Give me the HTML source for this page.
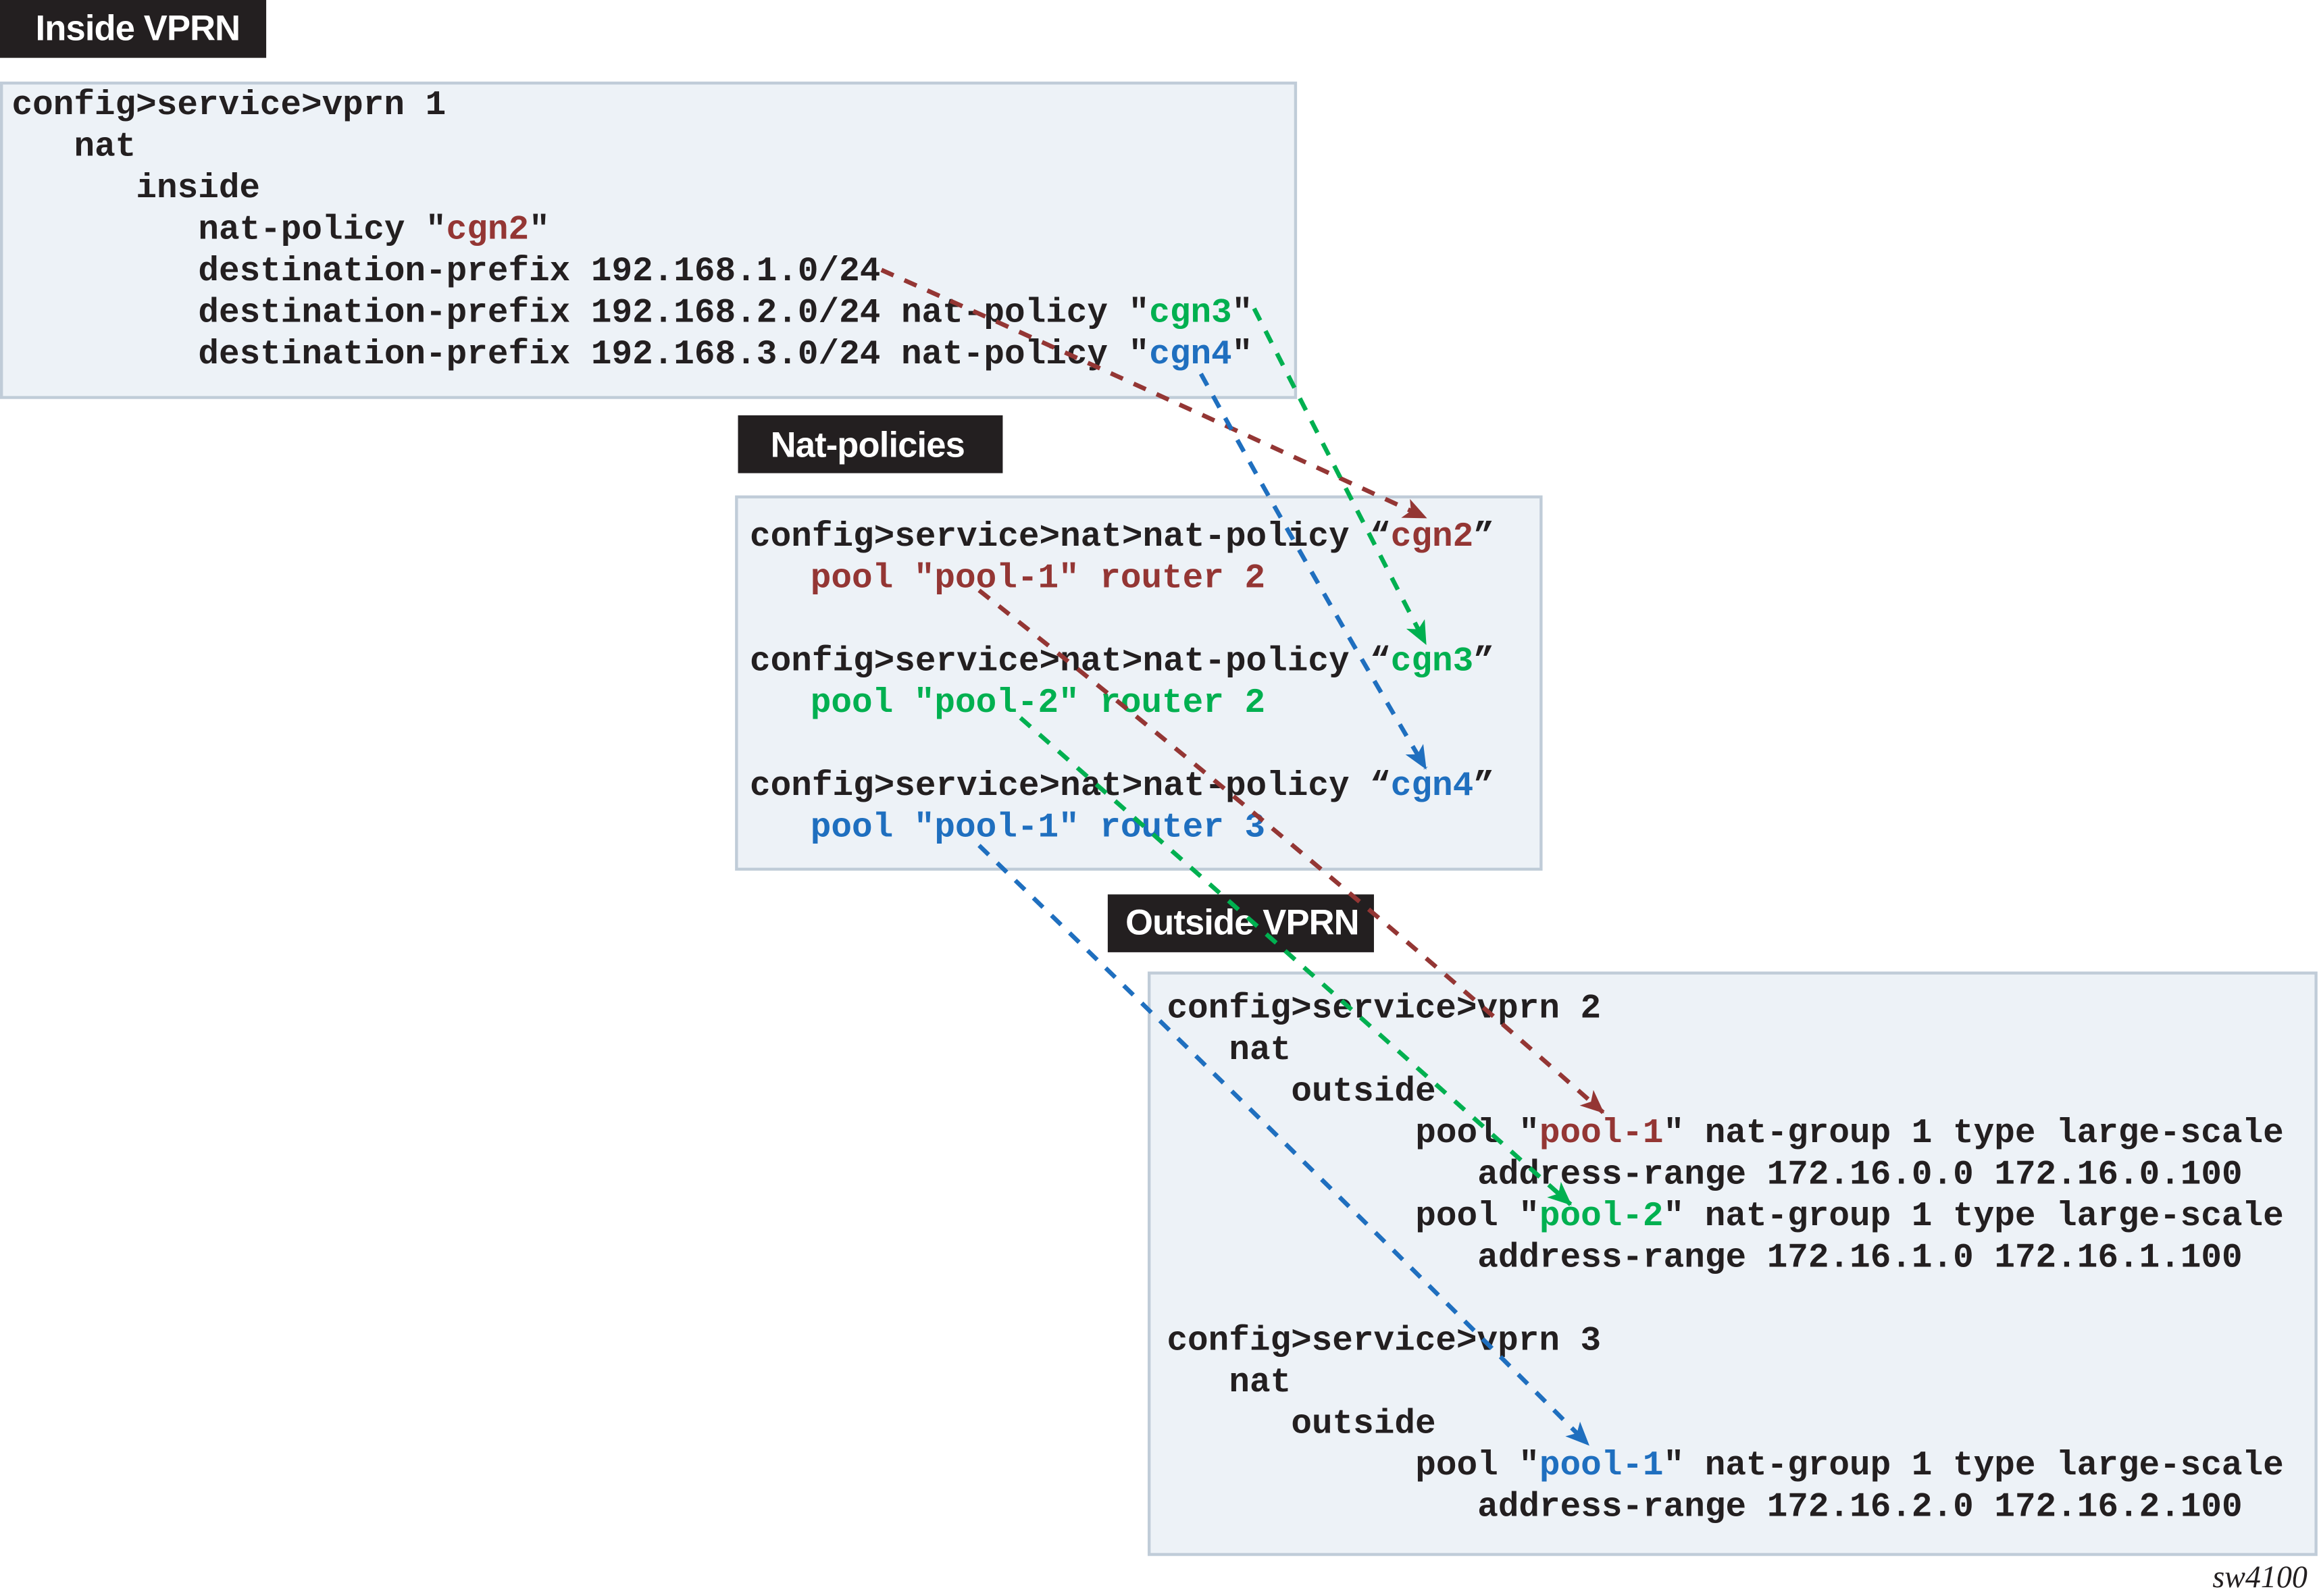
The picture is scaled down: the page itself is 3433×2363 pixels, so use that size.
<!DOCTYPE html>
<html><head><meta charset="utf-8"><style>
html,body{margin:0;padding:0;background:#fff}
svg{display:block}
.t{font-family:"Liberation Mono",monospace;font-weight:bold;font-size:23.3px;fill:#231f20}
.h{font-family:"Liberation Sans",sans-serif;font-weight:bold;font-size:24px;letter-spacing:-0.4px;fill:#fff}
.r{fill:#943634}.g{fill:#00b050}.b{fill:#1f6fbf}
</style></head><body>
<svg width="3433" height="2363" viewBox="0 0 1568 1076" preserveAspectRatio="none" xmlns="http://www.w3.org/2000/svg">
<defs>
<marker id="mr" markerWidth="16" markerHeight="14" refX="15" refY="7" orient="auto" markerUnits="userSpaceOnUse"><path d="M0,0 L16,7 L0,14 L4,7 z" fill="#943634"/></marker>
<marker id="mg" markerWidth="16" markerHeight="14" refX="15" refY="7" orient="auto" markerUnits="userSpaceOnUse"><path d="M0,0 L16,7 L0,14 L4,7 z" fill="#00b050"/></marker>
<marker id="mb" markerWidth="16" markerHeight="14" refX="15" refY="7" orient="auto" markerUnits="userSpaceOnUse"><path d="M0,0 L16,7 L0,14 L4,7 z" fill="#1f6fbf"/></marker>
</defs>

<rect x="0" y="0" width="180" height="39" fill="#231f20"/>
<text class="h" x="24" y="27">Inside VPRN</text>
<rect x="1" y="56" width="875" height="212" fill="#edf2f7" stroke="#c0ccd8" stroke-width="2"/>
<text class="t" x="8" y="77">config&gt;service&gt;vprn 1</text>
<text class="t" x="50" y="105">nat</text>
<text class="t" x="92" y="133">inside</text>
<text class="t" x="134" y="161">nat-policy "<tspan class="r">cgn2</tspan>"</text>
<text class="t" x="134" y="189">destination-prefix 192.168.1.0/24</text>
<text class="t" x="134" y="217">destination-prefix 192.168.2.0/24 nat-policy "<tspan class="g">cgn3</tspan>"</text>
<text class="t" x="134" y="245">destination-prefix 192.168.3.0/24 nat-policy "<tspan class="b">cgn4</tspan>"</text>

<rect x="499" y="280" width="179" height="39" fill="#231f20"/>
<text class="h" x="521" y="308">Nat-policies</text>
<rect x="498" y="335" width="544" height="251" fill="#edf2f7" stroke="#c0ccd8" stroke-width="2"/>
<text class="t" x="507" y="368">config&gt;service&gt;nat&gt;nat-policy “<tspan class="r">cgn2</tspan>”</text>
<text class="t r" x="548" y="396">pool "pool-1" router 2</text>
<text class="t" x="507" y="452">config&gt;service&gt;nat&gt;nat-policy “<tspan class="g">cgn3</tspan>”</text>
<text class="t g" x="548" y="480">pool "pool-2" router 2</text>
<text class="t" x="507" y="536">config&gt;service&gt;nat&gt;nat-policy “<tspan class="b">cgn4</tspan>”</text>
<text class="t b" x="548" y="564">pool "pool-1" router 3</text>

<rect x="749" y="603" width="180" height="39" fill="#231f20"/>
<text class="h" x="761" y="630">Outside VPRN</text>
<rect x="777" y="656" width="789" height="392" fill="#edf2f7" stroke="#c0ccd8" stroke-width="2"/>
<text class="t" x="789" y="686">config&gt;service&gt;vprn 2</text>
<text class="t" x="831" y="714">nat</text>
<text class="t" x="873" y="742">outside</text>
<text class="t" x="957" y="770">pool "<tspan class="r">pool-1</tspan>" nat-group 1 type large-scale</text>
<text class="t" x="999" y="798">address-range 172.16.0.0 172.16.0.100</text>
<text class="t" x="957" y="826">pool "<tspan class="g">pool-2</tspan>" nat-group 1 type large-scale</text>
<text class="t" x="999" y="854">address-range 172.16.1.0 172.16.1.100</text>
<text class="t" x="789" y="910">config&gt;service&gt;vprn 3</text>
<text class="t" x="831" y="938">nat</text>
<text class="t" x="873" y="966">outside</text>
<text class="t" x="957" y="994">pool "<tspan class="b">pool-1</tspan>" nat-group 1 type large-scale</text>
<text class="t" x="999" y="1022">address-range 172.16.2.0 172.16.2.100</text>

<g fill="none" stroke-width="3" stroke-dasharray="9 8">
<path d="M596,182 Q760,255 964,349" stroke="#943634" marker-end="url(#mr)"/>
<path d="M848,208 Q905,320 964,434" stroke="#00b050" marker-end="url(#mg)"/>
<path d="M812,252 Q885,385 964,518" stroke="#1f6fbf" marker-end="url(#mb)"/>
<path d="M662,398 Q880,570 1084,750" stroke="#943634" marker-end="url(#mr)"/>
<path d="M690,484 Q880,650 1062,812" stroke="#00b050" marker-end="url(#mg)"/>
<path d="M662,570 Q870,770 1074,974" stroke="#1f6fbf" marker-end="url(#mb)"/>
</g>

<text x="1496" y="1070" font-family="Liberation Serif,serif" font-style="italic" font-size="21" fill="#231f20">sw4100</text>
</svg>
</body></html>
